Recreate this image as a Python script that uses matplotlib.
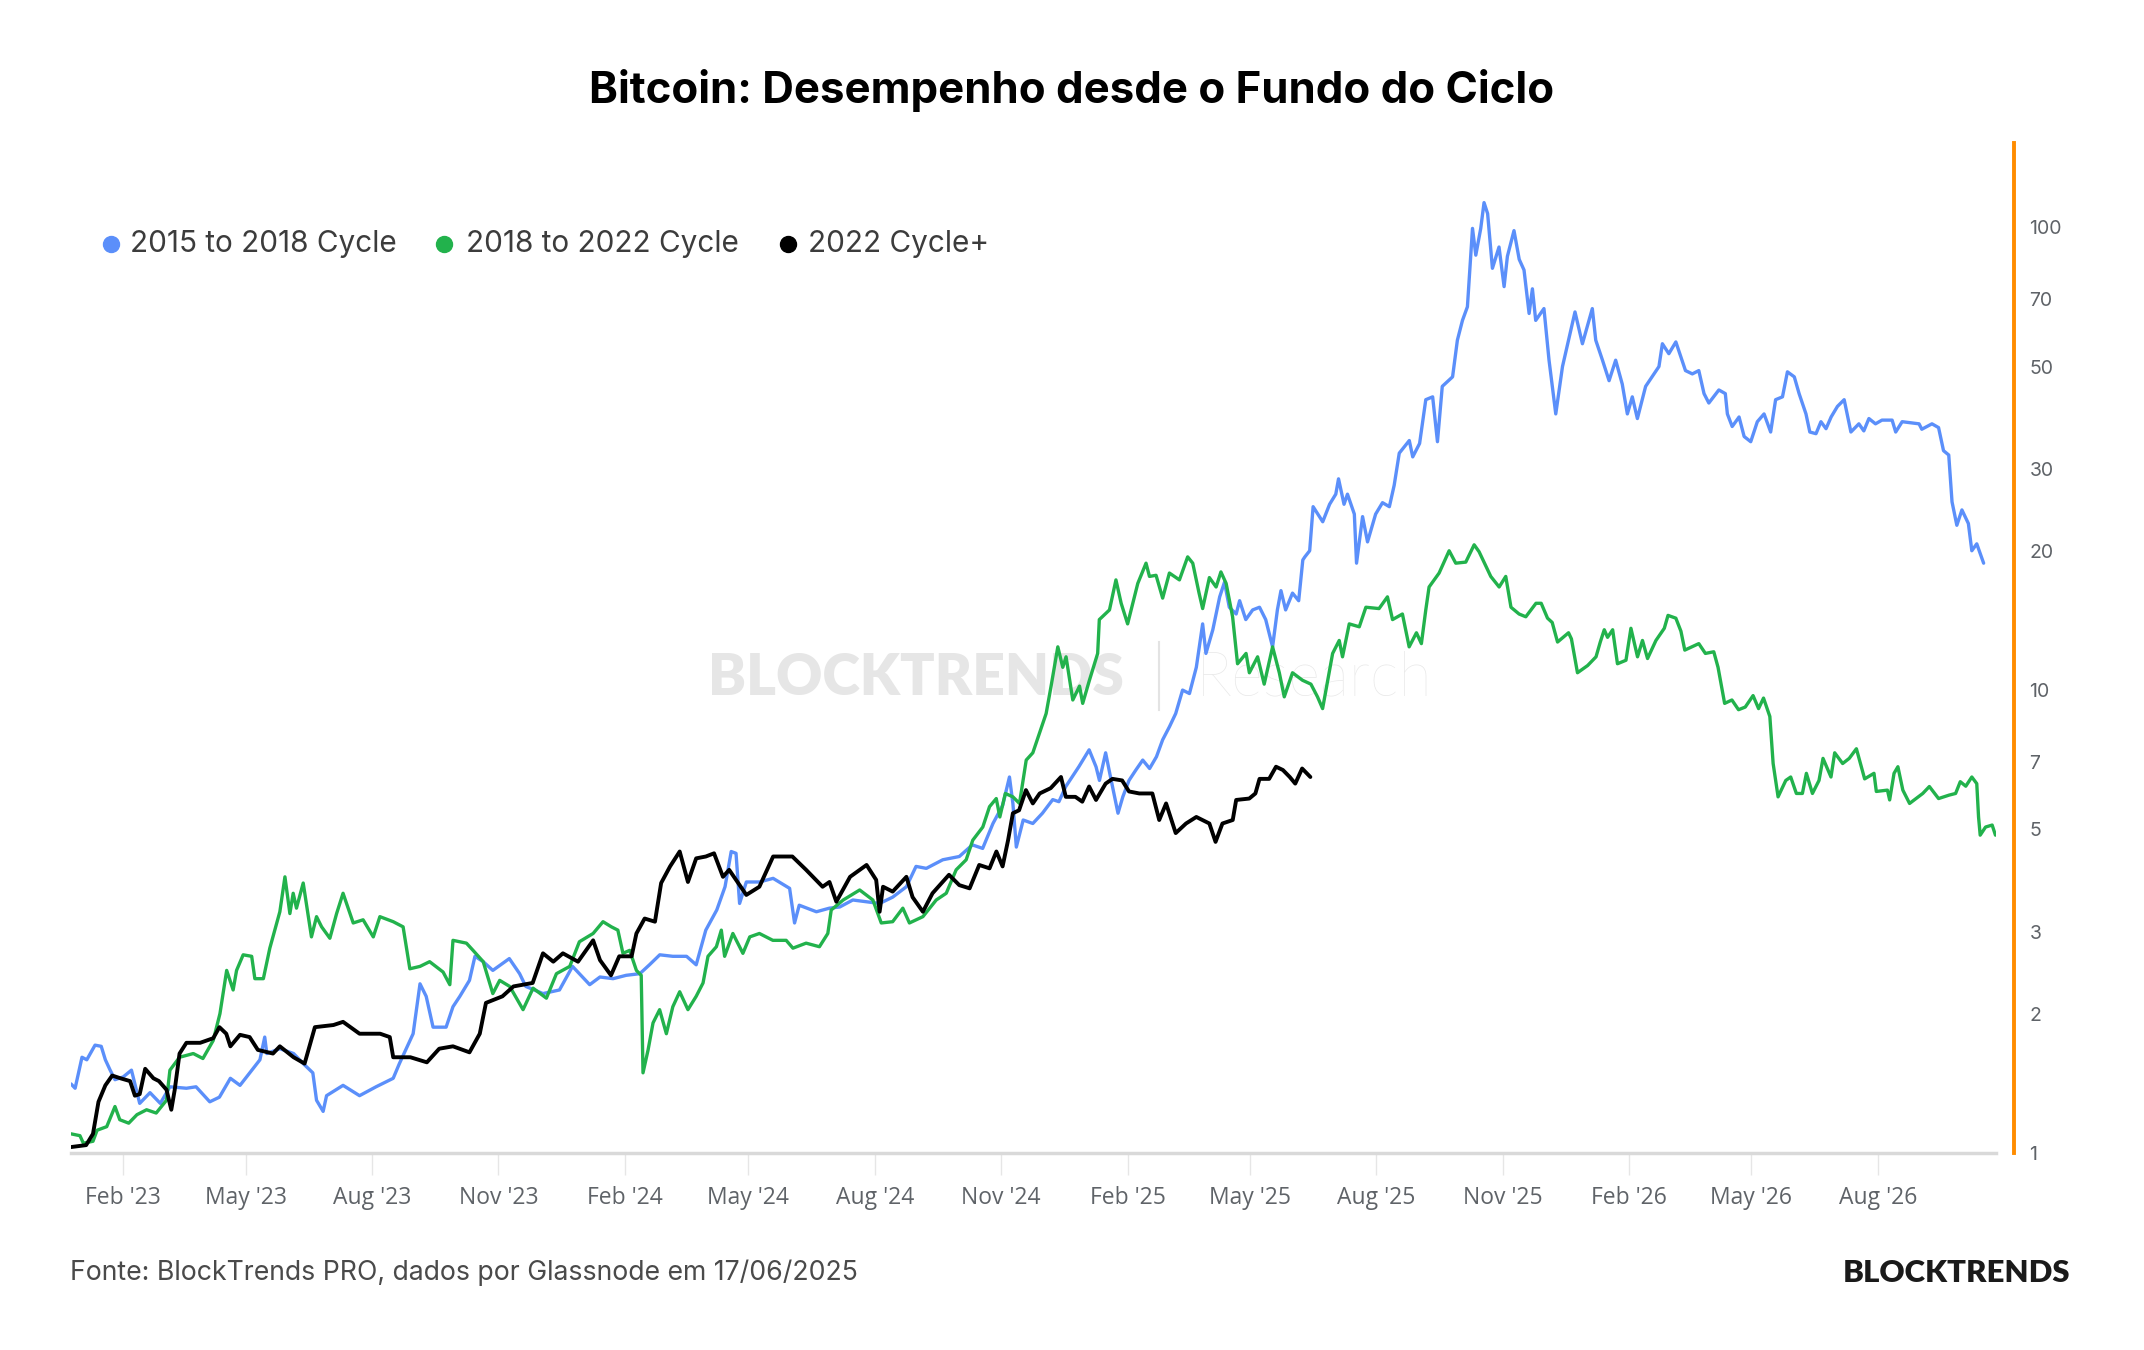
import numpy as np
import matplotlib
matplotlib.use("Agg")
import matplotlib.pyplot as plt
import matplotlib.dates as mdates
from matplotlib.lines import Line2D
from matplotlib.ticker import FixedLocator, FixedFormatter, NullLocator

# ---------------- data ----------------
title = "Bitcoin: Desempenho desde o Fundo do Ciclo"
source_text = "Fonte: BlockTrends PRO, dados por Glassnode em 17/06/2025"
series_names = ["2015 to 2018 Cycle", "2018 to 2022 Cycle", "2022 Cycle+"]
series_colors = ["#5b8ffa", "#22b24c", "#000000"]
start_date = "2022-12-25"   # day 0 of the x axis (cycle bottom aligned)
x_end_day = 1401

blue_days = [0, 3, 8, 11.5, 17.5, 22, 25, 28.5, 32, 38, 44, 50, 57.5, 65, 72, 84, 91, 101, 108, 116, 123,
             137.5, 141, 142.5, 152, 162, 169, 176, 178.7, 183.5, 186, 198, 210, 222, 234.5, 239, 249, 254,
             258.5, 263.5, 273, 278, 283, 290, 294, 300, 307, 319, 326.5, 331, 343.5, 355.5, 365, 377.5, 385,
             394.5, 404, 414, 421, 428.5, 438, 448, 455, 462, 470, 476, 480.5, 484, 486.6, 491.5, 501, 511,
             523, 526.6, 530, 542.5, 552, 559.5, 569, 579, 588.5, 598, 608, 615, 622.5, 634.5, 646.5, 656,
             663.5, 671, 678, 683, 685.5, 688, 693, 700, 707, 714.5, 719, 724, 733.5, 741, 746, 748.5, 753,
             756, 762, 765.5, 770, 775, 780, 785, 790, 794.5, 799.5, 804, 809, 814, 819, 823.6, 826, 831, 836,
             839.5, 843, 848, 850.5, 855, 860, 865, 869.5, 874.5, 878, 880.6, 884, 889, 893.5, 896.5, 898,
             901.5, 904, 911, 916, 920.5, 922.5, 926.5, 929, 934, 935.6, 940, 943.6, 949.5, 954.5, 959.5, 963,
             966.7, 974, 976.5, 981.5, 986, 991, 994.5, 998, 1005.5, 1009, 1012.7, 1016.3, 1020, 1022.4, 1026,
             1028.4, 1031, 1034.5, 1039.3, 1043, 1045.4, 1050.2, 1054, 1057.5, 1061.2, 1063.6, 1066, 1072,
             1075.7, 1080.6, 1085.5, 1090.4, 1094.6, 1100, 1107.2, 1109.7, 1114.6, 1119.4, 1124.2, 1129,
             1132.7, 1136.3, 1140, 1146, 1155.7, 1158.2, 1162.9, 1168, 1175, 1180, 1184.7, 1188.5, 1192,
             1199.3, 1204, 1205.5, 1209, 1214, 1217.7, 1222.5, 1227.3, 1232.2, 1237, 1240.6, 1245.6, 1249.2,
             1254.2, 1257.7, 1262.7, 1265.5, 1270, 1273.6, 1277.3, 1281, 1285.6, 1290.5, 1295.4, 1301.2,
             1304.8, 1308.5, 1313.3, 1318, 1325.4, 1328, 1332.7, 1345, 1347, 1354.4, 1359.2, 1362.8, 1366.6,
             1369, 1372.5, 1376.2, 1380.9, 1383.4, 1387, 1392]
blue_vals = [1.41, 1.38, 1.61, 1.59, 1.71, 1.70, 1.59, 1.51, 1.44, 1.46, 1.51, 1.28, 1.35, 1.28, 1.39, 1.38,
             1.39, 1.29, 1.32, 1.45, 1.40, 1.59, 1.78, 1.64, 1.68, 1.64, 1.56, 1.49, 1.30, 1.23, 1.33, 1.40,
             1.33, 1.39, 1.45, 1.56, 1.81, 2.32, 2.18, 1.87, 1.87, 2.07, 2.18, 2.36, 2.66, 2.59, 2.48, 2.63,
             2.44, 2.29, 2.21, 2.25, 2.53, 2.31, 2.40, 2.38, 2.42, 2.44, 2.55, 2.68, 2.66, 2.66, 2.55, 3.03,
             3.35, 3.76, 4.48, 4.44, 3.46, 3.85, 3.85, 3.92, 3.73, 3.14, 3.43, 3.32, 3.38, 3.40, 3.52, 3.49,
             3.46, 3.57, 3.76, 4.16, 4.12, 4.30, 4.37, 4.63, 4.55, 5.15, 5.63, 6.49, 5.69, 4.58, 5.24, 5.15,
             5.42, 5.8, 5.74, 6.19, 6.83, 7.43, 6.83, 6.38, 7.32, 6.61, 5.42, 5.88, 6.38, 6.72, 7.06, 6.77,
             7.18, 7.81, 8.34, 8.90, 10.0, 9.83, 11.2, 13.9, 12.0, 13.5, 15.9, 17.1, 15.1, 14.6, 15.6, 14.2,
             14.9, 15.1, 14.2, 12.4, 14.9, 16.4, 14.9, 16.2, 15.6, 19.1, 19.4, 20.0, 24.9, 23.1, 25.2, 26.5,
             28.6, 25.2, 26.5, 24.0, 18.8, 23.7, 20.9, 24.0, 25.4, 24.9, 27.7, 32.5, 34.6, 31.9, 34.1, 42.4,
             43.0, 34.4, 45.3, 47.5, 57.0, 62.9, 67.3, 99.4, 87.0, 99.4, 113, 107, 81.5, 90.6, 74.4, 86.5,
             98.3, 85.2, 80.8, 65.1, 73.6, 62.9, 66.7, 51.6, 39.5, 50.0, 57.8, 65.6, 56.0, 66.7, 57.0, 51.6,
             46.6, 51.6, 45.8, 39.5, 43.0, 38.6, 45.3, 50.0, 56.0, 53.3, 56.5, 49.0, 48.2, 49.0, 43.7, 41.7,
             44.5, 43.7, 39.5, 37.1, 38.9, 35.3, 34.4, 38.0, 39.5, 36.1, 42.4, 43.0, 48.7, 47.5, 43.7, 39.5,
             36.1, 35.8, 38.0, 36.7, 38.9, 41.0, 42.4, 36.1, 37.6, 36.3, 38.6, 37.6, 38.3, 38.3, 36.1, 38.0,
             37.6, 36.6, 37.6, 36.9, 32.9, 32.2, 25.5, 22.7, 24.5, 22.9, 20.0, 20.7, 18.8]

green_days = [0, 6.5, 9, 16, 19, 26, 32, 35.5, 42, 48, 55, 62, 69.5, 72, 79, 89, 96, 103.5, 108.4, 113.3, 118,
              120.5, 125.3, 131.5, 133.8, 140, 144.7, 152, 155.7, 159.3, 161.7, 164.1, 169, 175, 178.7, 182.4,
              188.4, 193.3, 198, 205.4, 212.6, 220, 224.8, 234.5, 241.7, 246.6, 254, 261, 270.8, 275.7, 278,
              287.8, 292.6, 300, 307, 312, 319.3, 329, 336.3, 346, 353.3, 363, 370, 380, 387.2, 393.3, 398,
              401.7, 406.6, 411.5, 415, 416.3, 420, 423.6, 428.4, 433.3, 438, 443, 449, 455, 460, 463.6, 469.7,
              473.3, 475.7, 481.7, 489, 494, 501, 510.8, 520.5, 525.4, 535, 544.7, 550.8, 553.3, 562, 574,
              583.6, 589.7, 598, 605.4, 610.2, 620, 629.7, 637, 644.2, 651.5, 656.3, 663.6, 668.5, 673.4, 676,
              680, 685.5, 690.3, 695.2, 700, 704.8, 709.7, 713.3, 718.2, 721.8, 724.2, 729.1, 734, 736.3, 741.2,
              747.2, 748.4, 755.8, 760.5, 764.3, 769, 772.8, 776.4, 782.4, 784.9, 789.7, 794.5, 799.4, 806.7,
              812.7, 816.4, 821, 823.6, 828.5, 833.4, 836.9, 840.7, 845.4, 849, 855.2, 857.6, 863.6, 868.4,
              874.5, 879.4, 883, 889, 896.3, 902.4, 907.2, 910.9, 918.2, 923, 925.4, 930.3, 937.6, 942.4, 952,
              958.1, 961.8, 969, 973.9, 979.2, 982.8, 986, 988.4, 995.7, 1003, 1007.8, 1015.1, 1021.2, 1024.8,
              1029.8, 1033.3, 1039.4, 1044.2, 1048, 1053.9, 1058.8, 1066.2, 1070, 1074.6, 1078, 1081.9, 1089.9,
              1092, 1096.4, 1103.8, 1109.9, 1113, 1115.9, 1118.3, 1122, 1125.5, 1131.7, 1135.3, 1140.1, 1143.7,
              1147.4, 1153.5, 1159.6, 1162.3, 1168, 1171.7, 1174.5, 1184.7, 1189.5, 1195.6, 1198.7, 1203.5,
              1208.8, 1213.6, 1218.5, 1224.2, 1228.2, 1231.8, 1236.4, 1238.8, 1242.4, 1248, 1251.6, 1255.7,
              1260.1, 1263, 1267.4, 1272.2, 1275.1, 1280.9, 1283.6, 1289.4, 1294.2, 1299.4, 1302, 1305.4,
              1312.2, 1313.9, 1322, 1323.6, 1326.8, 1329.6, 1333.2, 1338.1, 1347.7, 1352.5, 1359.2, 1366.8,
              1371.6, 1375, 1379, 1383.4, 1387, 1388.3, 1389.5, 1393.4, 1398.2, 1400.6]
green_vals = [1.10, 1.09, 1.05, 1.06, 1.12, 1.14, 1.26, 1.18, 1.16, 1.21, 1.24, 1.22, 1.30, 1.51, 1.61, 1.64,
              1.60, 1.75, 2.00, 2.48, 2.25, 2.48, 2.68, 2.66, 2.38, 2.38, 2.77, 3.32, 3.95, 3.29, 3.64, 3.38,
              3.83, 2.93, 3.24, 3.08, 2.91, 3.29, 3.64, 3.14, 3.19, 2.93, 3.24, 3.16, 3.08, 2.50, 2.53, 2.59,
              2.46, 2.31, 2.88, 2.84, 2.74, 2.59, 2.21, 2.36, 2.29, 2.04, 2.27, 2.16, 2.44, 2.53, 2.86, 2.98,
              3.16, 3.08, 3.03, 2.70, 2.74, 2.48, 2.42, 1.49, 1.67, 1.91, 2.04, 1.81, 2.07, 2.23, 2.04, 2.18,
              2.33, 2.66, 2.79, 3.03, 2.66, 2.98, 2.70, 2.93, 2.98, 2.88, 2.88, 2.77, 2.84, 2.79, 2.98, 3.35,
              3.52, 3.70, 3.52, 3.14, 3.16, 3.38, 3.14, 3.24, 3.52, 3.64, 4.09, 4.30, 4.74, 5.06, 5.60, 5.83,
              5.32, 5.98, 5.88, 5.69, 7.06, 7.32, 8.06, 8.90, 10.2, 12.4, 11.2, 11.8, 9.52, 10.2, 9.36, 10.5,
              12.0, 14.2, 14.9, 17.3, 15.4, 13.9, 15.4, 17.0, 18.8, 17.6, 17.7, 15.8, 17.9, 17.3, 19.4, 18.8,
              16.2, 15.0, 17.5, 16.7, 18.0, 17.0, 14.4, 11.4, 12.0, 10.9, 11.8, 10.3, 12.4, 10.9, 9.67, 10.9,
              10.5, 10.3, 9.67, 9.12, 12.0, 12.8, 11.8, 13.9, 13.7, 15.1, 15.0, 15.9, 14.2, 14.6, 12.4, 13.3,
              12.6, 14.9, 16.7, 17.9, 20.0, 18.8, 18.9, 20.6, 19.9, 18.5, 17.6, 16.7, 17.6, 15.1, 14.6, 14.4,
              15.4, 15.4, 14.3, 14.0, 12.7, 13.3, 12.9, 10.9, 11.3, 11.8, 12.7, 13.5, 13.0, 13.5, 11.4, 11.6,
              13.6, 11.8, 12.8, 11.7, 12.8, 13.6, 14.5, 14.3, 13.4, 12.2, 12.6, 12.0, 12.1, 11.2, 9.36, 9.52,
              9.07, 9.19, 9.73, 9.12, 9.61, 8.77, 6.94, 5.88, 6.38, 6.49, 5.98, 5.98, 6.61, 5.98, 6.38, 7.12,
              6.49, 7.32, 6.94, 7.12, 7.47, 7.0, 6.43, 6.61, 6.04, 6.08, 5.79, 6.61, 6.83, 6.08, 5.69, 5.98,
              6.19, 5.83, 5.93, 5.98, 6.34, 6.2, 6.49, 6.28, 5.32, 4.86, 5.06, 5.11, 4.86]

black_days = [0, 11, 16, 20, 25, 30, 36, 43, 46.5, 50, 54, 60, 64, 69.5, 73, 75.5, 79, 84, 94, 103.5, 108, 113,
              116, 123, 130, 136, 147, 152, 162, 170, 177.5, 191, 198, 210, 225, 232, 234.5, 247, 259, 268,
              278, 290, 297.5, 302, 314, 322, 336, 343.5, 351, 358, 369, 380, 385, 393, 399, 408, 411.5,
              417.5, 425, 429.5, 436, 443, 449, 455, 462, 468, 474.5, 479, 491.5, 501, 511, 525, 535, 547,
              552, 557, 567, 579, 586, 588.5, 591, 598, 608, 612.5, 620, 627, 639, 646.5, 654, 661, 668.5,
              673.5, 678, 682, 685.5, 690, 695, 700, 705, 713, 720.5, 724, 731, 736, 741, 746, 753, 758, 765,
              770, 777.5, 787, 792, 797, 804, 811.5, 819, 828.5, 833, 838, 845.5, 848, 857.5, 862, 865, 872,
              877, 882, 887, 891, 896, 902]
black_vals = [1.03, 1.04, 1.10, 1.29, 1.40, 1.47, 1.45, 1.43, 1.33, 1.34, 1.52, 1.45, 1.43, 1.37, 1.24, 1.37,
              1.64, 1.73, 1.73, 1.77, 1.87, 1.81, 1.70, 1.80, 1.78, 1.67, 1.64, 1.70, 1.61, 1.56, 1.87, 1.89,
              1.92, 1.81, 1.81, 1.78, 1.61, 1.61, 1.57, 1.68, 1.70, 1.65, 1.81, 2.11, 2.18, 2.29, 2.33, 2.70,
              2.59, 2.70, 2.59, 2.88, 2.61, 2.42, 2.66, 2.66, 2.98, 3.21, 3.16, 3.83, 4.16, 4.48, 3.85, 4.33,
              4.37, 4.44, 3.95, 4.09, 3.61, 3.76, 4.37, 4.37, 4.09, 3.76, 3.85, 3.49, 3.95, 4.19, 3.89, 3.32,
              3.76, 3.67, 3.95, 3.57, 3.32, 3.64, 3.99, 3.79, 3.73, 4.19, 4.12, 4.48, 4.16, 4.74, 5.42, 5.50,
              6.08, 5.69, 5.98, 6.14, 6.49, 5.88, 5.88, 5.74, 6.19, 5.79, 6.28, 6.43, 6.38, 6.04, 5.98, 5.98,
              5.24, 5.69, 4.91, 5.15, 5.32, 5.15, 4.70, 5.15, 5.24, 5.79, 5.83, 5.98, 6.43, 6.43, 6.83, 6.72,
              6.49, 6.28, 6.77, 6.49]

ytick_vals = [1, 2, 3, 5, 7, 10, 20, 30, 50, 70, 100]
ytick_labels = ["1", "2", "3", "5", "7", "10", "20", "30", "50", "70", "100"]
y_limits = (1, 152)

# ---------------- figure ----------------
W, H = 2144, 1350
plt.rcParams["font.family"] = ["Inter", "DejaVu Sans"]
fig = plt.figure(figsize=(W / 100, H / 100), dpi=100)
fig.patch.set_facecolor("white")

ax = fig.add_axes([71 / W, 1 - 1153 / H, (1996 - 71) / W, (1153 - 143) / H])
ax.set_facecolor("white")

t0 = np.datetime64(start_date, "s")


def to_dates(days):
    return t0 + np.round(np.asarray(days, dtype=float) * 86400).astype("timedelta64[s]")


all_days = [blue_days, green_days, black_days]
all_vals = [blue_vals, green_vals, black_vals]
widths = [2.4, 2.4, 2.8]
for i, (d, v) in enumerate(zip(all_days, all_vals)):
    ax.plot(to_dates(d), v, color=series_colors[i], lw=widths[i], zorder=3 + i,
            solid_joinstyle="round", solid_capstyle="round")

ax.set_yscale("log")
ax.set_ylim(*y_limits)
ax.set_xlim(t0, t0 + np.timedelta64(int(x_end_day * 86400), "s"))

# y axis on the right, orange spine
ax.yaxis.tick_right()
ax.yaxis.set_major_locator(FixedLocator(ytick_vals))
ax.yaxis.set_major_formatter(FixedFormatter(ytick_labels))
ax.yaxis.set_minor_locator(NullLocator())
ax.tick_params(axis="y", which="both", length=0, labelsize=14, labelcolor="#5f6368", pad=11)
for lbl in ax.get_yticklabels():
    lbl.set_fontfamily(["DejaVu Sans"])

ax.spines["left"].set_visible(False)
ax.spines["top"].set_visible(False)
ax.spines["right"].set_color("#ff8c00")
ax.spines["right"].set_linewidth(2.8)
ax.spines["right"].set_position(("outward", 13))
ax.spines["bottom"].set_color("#d9d9d9")
ax.spines["bottom"].set_linewidth(2.5)

# x axis dates
ax.xaxis.set_major_locator(mdates.MonthLocator(bymonth=[2, 5, 8, 11]))
ax.xaxis.set_major_formatter(mdates.DateFormatter("%b '%y"))
ax.tick_params(axis="x", length=16, width=1, color="#e6e6e6", labelsize=16.5, labelcolor="#5f6368", pad=8)
for lbl in ax.get_xticklabels():
    lbl.set_fontfamily(["Open Sans", "DejaVu Sans"])

# watermark
ax.text(916 / W, 1 - 678 / H, "BLOCKTRENDS", transform=fig.transFigure, ha="center", va="center",
        fontsize=41, fontweight="heavy", color="#e6e6e6", zorder=1, family=["Lato", "DejaVu Sans"])
ax.plot([1159 / W, 1159 / W], [1 - 642 / H, 1 - 710 / H], transform=fig.transFigure, color="#e3e3e3",
        lw=1.5, zorder=1)
ax.text(1196 / W, 1 - 678 / H, "Research", transform=fig.transFigure, ha="left", va="center",
        fontsize=44, fontweight="light", color="#e8e8e8", zorder=1, family=["Lato", "DejaVu Sans"])

# title
fig.text(0.5, 1 - 91 / H, title, ha="center", va="center", fontsize=31.5, fontweight="bold", color="#000000")

# legend (manual)
marker_x = [111, 444, 788]
text_x = [130, 466, 808]
leg_y = 1 - 244 / H
for i, name in enumerate(series_names):
    fig.add_artist(Line2D([marker_x[i] / W], [leg_y], transform=fig.transFigure, marker="o",
                          markersize=11.5, color=series_colors[i], linestyle=""))
    fig.text(text_x[i] / W, leg_y, name, ha="left", va="center", fontsize=21.4, color="#3c3c3c")

# footer
fig.text(70 / W, 1 - 1273 / H, source_text, ha="left", va="center", fontsize=19.2, color="#4a4a4a")
fig.text(2070 / W, 1 - 1273 / H, "BLOCKTRENDS", ha="right", va="center", fontsize=22.4,
         fontweight="heavy", color="#1a1a1a", family=["Lato", "DejaVu Sans"])

fig.savefig("out.png", dpi=100, facecolor="white")
